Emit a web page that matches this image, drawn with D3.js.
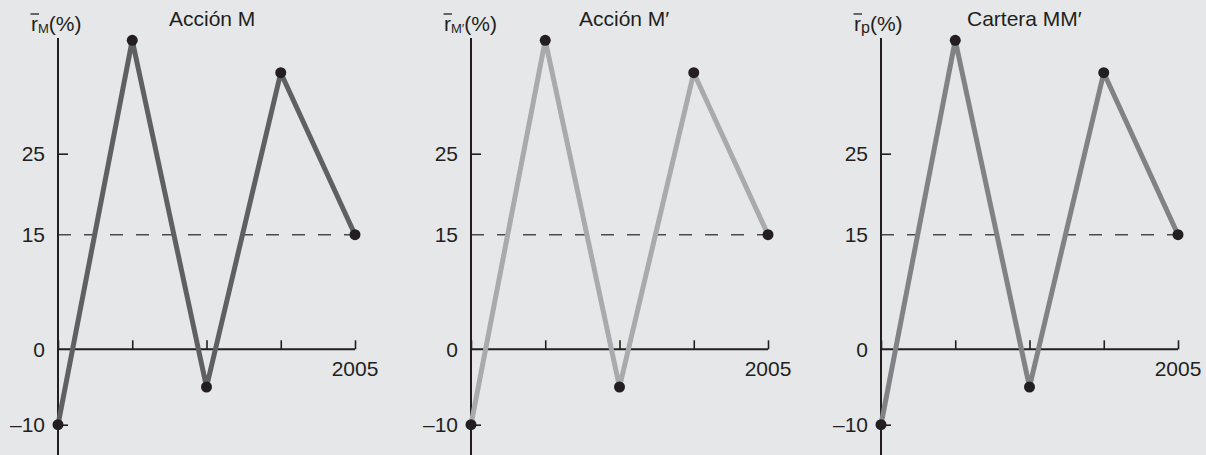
<!DOCTYPE html>
<html><head><meta charset="utf-8">
<script src="https://cdn.jsdelivr.net/npm/d3@7"></script>
<style>
html,body{margin:0;padding:0;background:#e6e7e8;}
svg{display:block;font-family:"Liberation Sans",Arial,Helvetica,sans-serif;}
</style></head>
<body>
<svg id="chart" width="1206" height="455"></svg>
<script>
// ---- data ----
const years = [2001, 2002, 2003, 2004, 2005];
const returnsM = [-10, 39, -5, 35, 15];
const returnsMp = [-10, 39, -5, 35, 15];
const returnsP = [-10, 39, -5, 35, 15];
const meanReturn = 15;
const yTickValues = [-10, 0, 15, 25];
const yTickLabels = ["\u201310", "0", "15", "25"];
const xEndLabel = "2005";
const titles = ["Acci\u00f3n M", "Acci\u00f3n M\u2032", "Cartera MM\u2032"];
const subscripts = ["M", "M\u2032", "p"];

// ---- layout ----
const W = 1206, H = 455;
const axisXs = [58, 471, 881];
const plotW = 297;
const titleOffsets = [111, 108, 86];
const lineColors = ["#606062", "#a8aaad", "#818285"];
const subSizes = [13, 13, 16];
const ink = "#231f20";
const fs = 21;

const svg = d3.select("#chart");
svg.append("rect").attr("width", W).attr("height", H).attr("fill", "#e6e7e8");

// polylinear y scale anchored on the printed tick positions
const y = d3.scaleLinear().domain([-10, 0, 15, 25]).range([424.7, 349.3, 234.7, 153.7]);

const seriesList = [returnsM, returnsMp, returnsP];

seriesList.forEach((vals, i) => {
  const x0 = axisXs[i];
  const x = d3.scaleLinear().domain([years[0], years[years.length - 1]]).range([x0, x0 + plotW]);
  const g = svg.append("g");

  // dashed mean line
  g.append("line")
    .attr("x1", x0).attr("x2", x(years[years.length - 1]) + 7)
    .attr("y1", y(meanReturn)).attr("y2", y(meanReturn))
    .attr("stroke", "#4a4a4c").attr("stroke-width", 1.5)
    .attr("stroke-dasharray", "13,13");

  // x axis (at y=0), ticks pointing up
  const xAxis = d3.axisTop(x).tickValues(years).tickSize(9).tickFormat("");
  const xa = g.append("g").attr("transform", `translate(0,${y(0)})`).call(xAxis);
  xa.select(".domain").attr("d", `M${x0},0H${x0 + plotW}`).attr("stroke", ink).attr("stroke-width", 2);
  xa.selectAll(".tick line").attr("stroke", ink).attr("stroke-width", 1.6);

  g.append("text")
    .attr("x", x(years[years.length - 1])).attr("y", y(0) + 27)
    .attr("text-anchor", "middle").attr("font-size", fs).attr("fill", ink)
    .text(xEndLabel);

  // y axis
  const yAxis = d3.axisRight(y).tickValues([-10, 25]).tickSize(10).tickFormat("");
  const ya = g.append("g").attr("transform", `translate(${x0},0)`).call(yAxis);
  ya.select(".domain").attr("d", "M0,38V455").attr("stroke", ink).attr("stroke-width", 2);
  ya.selectAll(".tick line").attr("stroke", ink).attr("stroke-width", 1.6);

  yTickValues.forEach((v, k) => {
    g.append("text")
      .attr("x", x0 - 13).attr("y", y(v)).attr("dy", "0.36em")
      .attr("text-anchor", "end").attr("font-size", fs).attr("fill", ink)
      .text(yTickLabels[k]);
  });

  // series line
  const pts = years.map((yr, k) => [yr, vals[k]]);
  g.append("path")
    .datum(pts)
    .attr("d", d3.line().x(d => x(d[0])).y(d => y(d[1])))
    .attr("fill", "none").attr("stroke", lineColors[i]).attr("stroke-width", 5)
    .attr("stroke-linejoin", "round");

  g.selectAll("circle.pt").data(pts).join("circle")
    .attr("class", "pt")
    .attr("cx", d => x(d[0])).attr("cy", d => y(d[1])).attr("r", 5.5)
    .attr("fill", ink);

  // title
  g.append("text")
    .attr("x", x0 + titleOffsets[i]).attr("y", 26)
    .attr("font-size", fs).attr("fill", ink)
    .text(titles[i]);

  // y label r̄_sub(%)
  const lx = x0 - 27;
  const lbl = g.append("text").attr("x", lx).attr("y", 31).attr("font-size", fs).attr("fill", ink);
  lbl.append("tspan").text("r");
  lbl.append("tspan").attr("font-size", subSizes[i]).attr("dy", 2).text(subscripts[i]);
  lbl.append("tspan").attr("dy", -2).text("(%)");
  const rw = lbl.node().getSubStringLength(0, 1);
  g.append("line")
    .attr("x1", lx - 0.5).attr("x2", lx + rw + 1)
    .attr("y1", 14).attr("y2", 14)
    .attr("stroke", ink).attr("stroke-width", 1.3);
});
</script>
</body></html>
